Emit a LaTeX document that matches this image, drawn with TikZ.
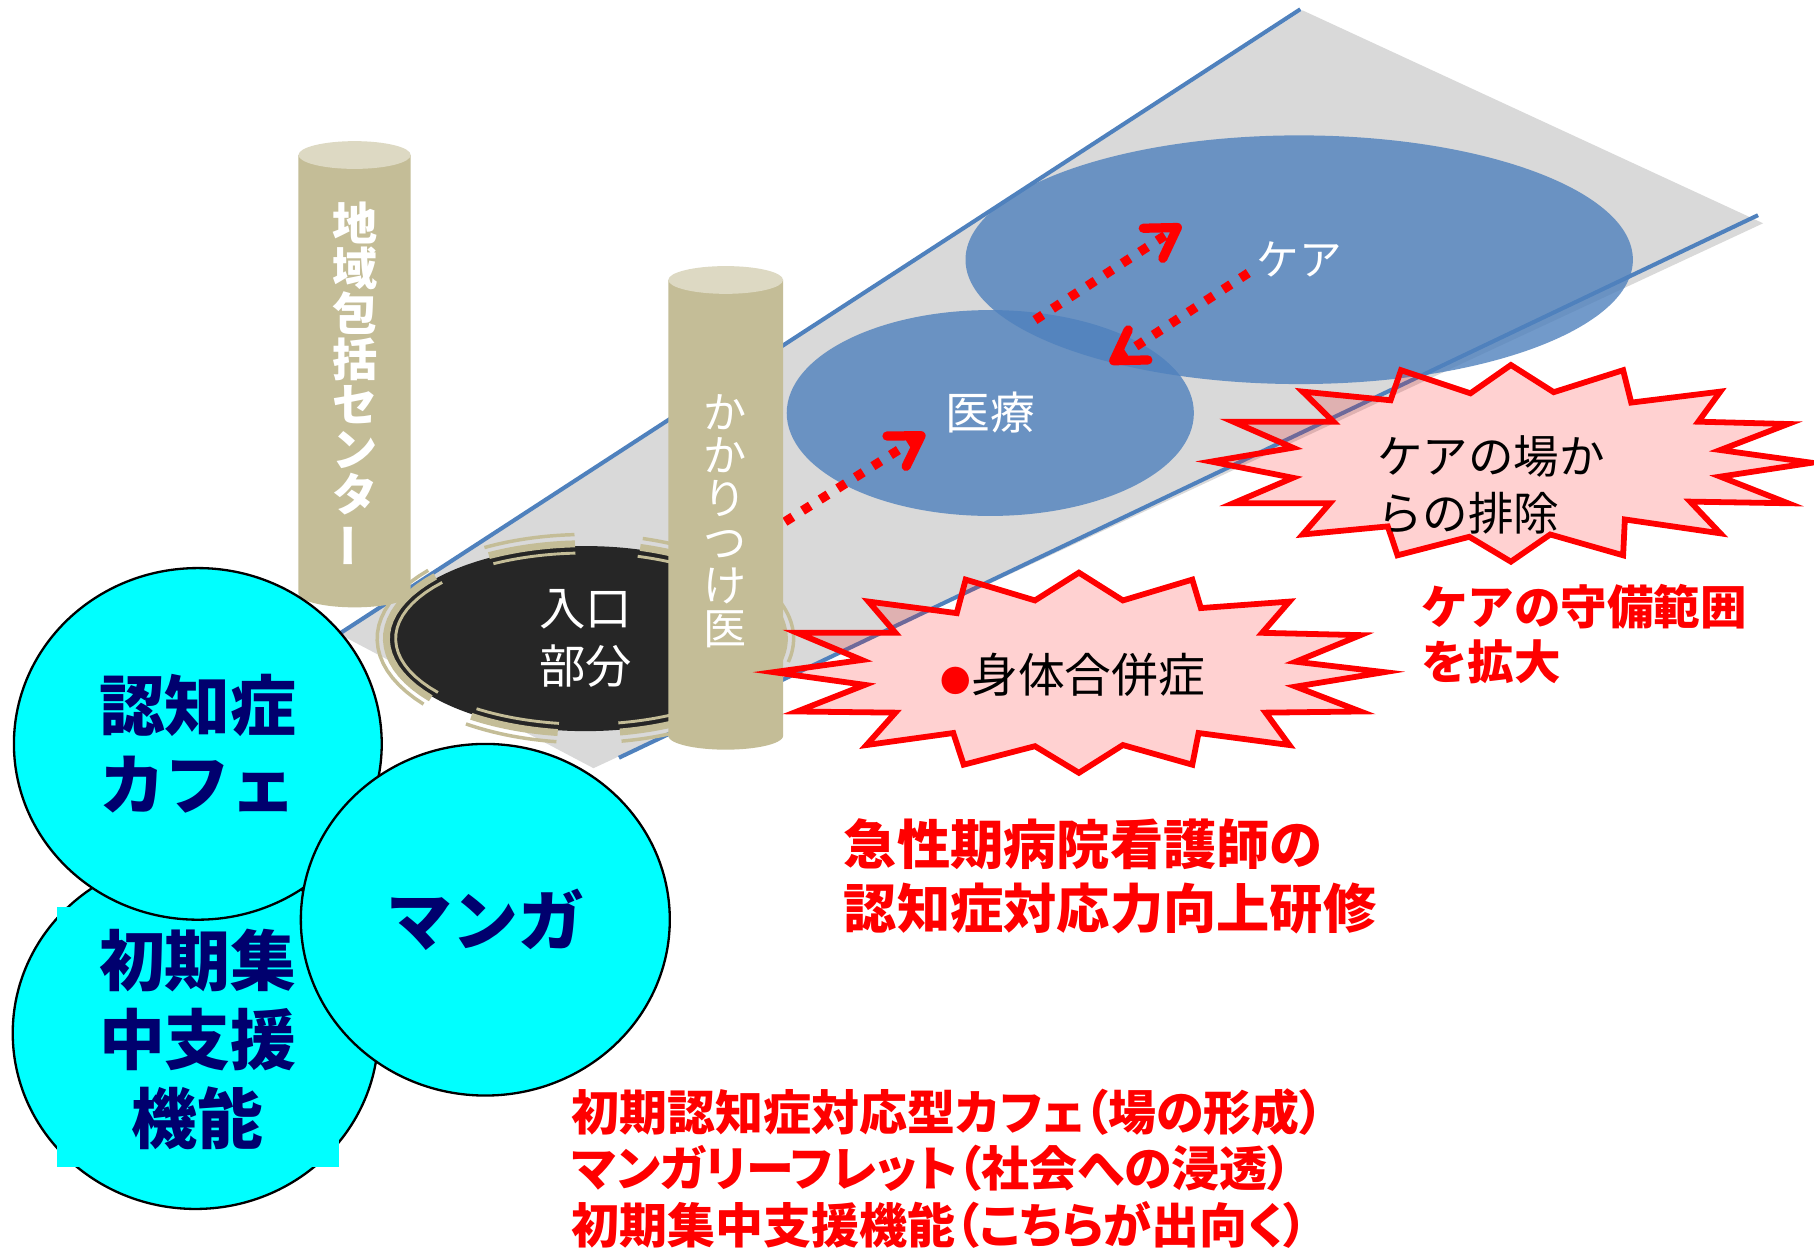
\documentclass[tikz,border=0pt]{standalone}
\usepackage{fontspec}
\newfontfamily\jp{Noto Sans CJK JP}
\newfontfamily\jpp{Noto Sans CJK JP}[RawFeature={+palt}]
\usetikzlibrary{arrows.meta,shapes.geometric}
\definecolor{txtnavy}{RGB}{0,0,110}
\definecolor{cyltan}{RGB}{196,189,151}
\definecolor{cylcap}{RGB}{221,217,195}
\definecolor{planegray}{RGB}{217,217,217}
\definecolor{planeblue}{RGB}{79,129,189}
\definecolor{entrydark}{RGB}{38,38,38}
\definecolor{cafecyan}{RGB}{0,255,255}
\newcommand\setfs[2]{\fontsize{#1}{#2}\selectfont}
\begin{document}
\begin{tikzpicture}[x=0.02cm,y=-0.02cm,
  plane/.style={fill=planegray},
  edgeline/.style={draw=planeblue,line width=0.07cm},
  zone/.style={ellipse,fill=planeblue,fill opacity=0.8,text opacity=1,inner sep=0,text=white},
  dotarrow/.style={draw=red,line width=0.16cm,dash pattern=on 0.16cm off 0.2cm,-{Straight Barb[length=0.5cm,width=0.62cm,round]}},
  burst/.style={draw=red,line width=0.1cm,fill=red,fill opacity=0.18,line join=miter,miter limit=20},
  cylbody/.style={fill=cyltan},
  cyltop/.style={fill=cylcap},
  ringouter/.style={draw=cyltan,line width=0.06cm},
  ringmid/.style={draw=cyltan,line width=0.12cm},
  ringinner/.style={draw=cyltan,line width=0.05cm},
  circ/.style={ellipse,fill=cafecyan,draw=black,line width=0.04cm,inner sep=0,text=txtnavy,font=\jp\bfseries\setfs{32.4pt}{38.7pt},align=center},
  vtext/.style={text=white,inner sep=0,align=center},
  lbl/.style={inner sep=0,anchor=west,align=left},
]
\useasboundingbox (0,0) rectangle (1568,1081);
\fill[white] (0,0) rectangle (1568,1081);

% plane
\fill[plane] (293,548) -- (1126,9) -- (1524,193) -- (513,664) -- cycle;
\draw[edgeline] (290,550) -- (1124,8);
\draw[edgeline] (535,655) -- (1519.6,186);

% zones
\node[zone,minimum width=7.04cm,minimum height=3.56cm,font=\jp\setfs{22pt}{22pt}] (iryo) at (856,357) {医療};
\node[zone,minimum width=11.54cm,minimum height=4.3cm,font=\jp\setfs{21pt}{21pt}] (care) at (1123,224.5) {ケア};

% arrows
\coordinate (a1s) at (678.5,451);
\coordinate (a1e) at (799.5,374.5);
\coordinate (a2s) at (894.6,276.6);
\coordinate (a2e) at (1021,194.5);
\coordinate (a3s) at (1079,236);
\coordinate (a3e) at (959.4,314);
\draw[dotarrow] (a1s) -- (a1e);
\draw[dotarrow] (a2s) -- (a2e);
\draw[dotarrow] (a3s) -- (a3e);

% cylinder 1
\fill[cylbody] (258,134) -- plot[domain=180:0,samples=30] ({306.5+48.5*cos(\x)},{513+12*sin(\x)}) -- (355,134) -- cycle;
\fill[cyltop] (306.5,134) ellipse [x radius=48.5, y radius=12];
\node[vtext,font=\jp\bfseries\setfs{22.2pt}{22.2pt}] (chiiki) at (307,333) {地\\域\\包\\括\\セ\\ン\\タ\\\rotatebox[origin=c]{90}{ー}};

% entry ellipse
\node[ellipse,fill=entrydark,minimum width=6.8cm,minimum height=3.2cm,inner sep=0,text=white,font=\jp\setfs{22.8pt}{28.7pt},align=center] (entry) at (506,552) {入口\\部分};
\foreach \a/\b in {141/221,241/267,286/312,337/373,48/80,98/125}{
  \draw[ringouter] plot[domain=\a:\b,samples=20] ({506+180*cos(\x)},{552+90*sin(\x)});
  \draw[ringmid] plot[domain=\a:\b,samples=20] ({506+172*cos(\x)},{552+82*sin(\x)});
  \draw[ringinner] plot[domain=\a:\b,samples=20] ({506+164*cos(\x)},{552+74*sin(\x)});
}

% cylinder 2
\fill[cylbody] (577.7,242) -- plot[domain=180:0,samples=30] ({627.3+49.6*cos(\x)},{636+12*sin(\x)}) -- (676.9,242) -- cycle;
\fill[cyltop] (627.3,242) ellipse [x radius=49.6, y radius=12];
\node[vtext,font=\jp\setfs{21.2pt}{21.2pt}] (kakari) at (627,450.5) {か\\か\\り\\つ\\け\\医};

% bursts
\draw[burst] (1306,315.5) -- (1343,339) -- (1403,320) -- (1410,348) -- (1487,338.5) -- (1468,364.5) -- (1545.5,366.5) -- (1487,389) -- (1566,400) -- (1487,412) -- (1545.5,435) -- (1461,433.6) -- (1487,461) -- (1404.5,449) -- (1403,480) -- (1340,462) -- (1306,485.5) -- (1270,464) -- (1208,480) -- (1199.6,455) -- (1126,462) -- (1149.5,435) -- (1066,435) -- (1117.6,413) -- (1047,399) -- (1117.6,387) -- (1066,364.5) -- (1152.6,364.5) -- (1126,338.5) -- (1202,346) -- (1211,320) -- (1271,340) -- cycle;
\draw[burst] (932.6,495) -- (970.6,519) -- (1030.6,501) -- (1038,525.6) -- (1114.5,520) -- (1091,547) -- (1176,549) -- (1120,572) -- (1196.6,581) -- (1120,593.5) -- (1176,615) -- (1094,616) -- (1114.5,644) -- (1036,633.6) -- (1030.6,661) -- (970.6,644) -- (932.6,668) -- (894.6,645) -- (833,661) -- (824,633.6) -- (749,644) -- (774,616) -- (689,615) -- (747.6,592) -- (668.7,581) -- (745,570.5) -- (689,547) -- (774,547) -- (750.8,520) -- (827,530) -- (834.7,501) -- (894.6,519) -- cycle;
\node[lbl,font=\jp\setfs{22.4pt}{27.8pt}] (haijo) at (1190,419) {ケアの場か\\らの排除};
\node[lbl,font=\jpp\setfs{23pt}{23pt}] (gappei) at (813,583.4) {\textcolor{red}{\setfs{15pt}{15pt}●}身体合併症};

% cyan circles
\fill[cafecyan,draw=black,line width=0.04cm] (169,893) ellipse [x radius=158, y radius=152];
\fill[cafecyan] (49,784) rectangle (293,1009);
\node[inner sep=0,text=txtnavy,font=\jp\bfseries\setfs{32.4pt}{38.7pt},align=center] (shoki) at (171,898.5) {初期集\\中支援\\機能};
\node[circ,minimum width=6.36cm,minimum height=6.08cm] (cafe) at (171,643) {認知症\\カフェ};
\node[circ,minimum width=6.38cm,minimum height=6.08cm] (manga) at (419.5,795) {マンガ};

% red texts
\node[lbl,text=red,font=\jp\bfseries\setfs{22.9pt}{27.1pt}] (hani) at (1228,548) {ケアの守備範囲\\を拡大};
\node[lbl,text=red,font=\jp\bfseries\setfs{26.2pt}{31.3pt}] (kango) at (729,757.5) {急性期病院看護師の\\認知症対応力向上研修};
\node[lbl,text=red,font=\jpp\bfseries\setfs{23.6pt}{27.9pt}] (summary) at (494,1010) {初期認知症対応型カフェ（場の形成）\\マンガリーフレット（社会への浸透）\\初期集中支援機能（こちらが出向く）};
\end{tikzpicture}
\end{document}
